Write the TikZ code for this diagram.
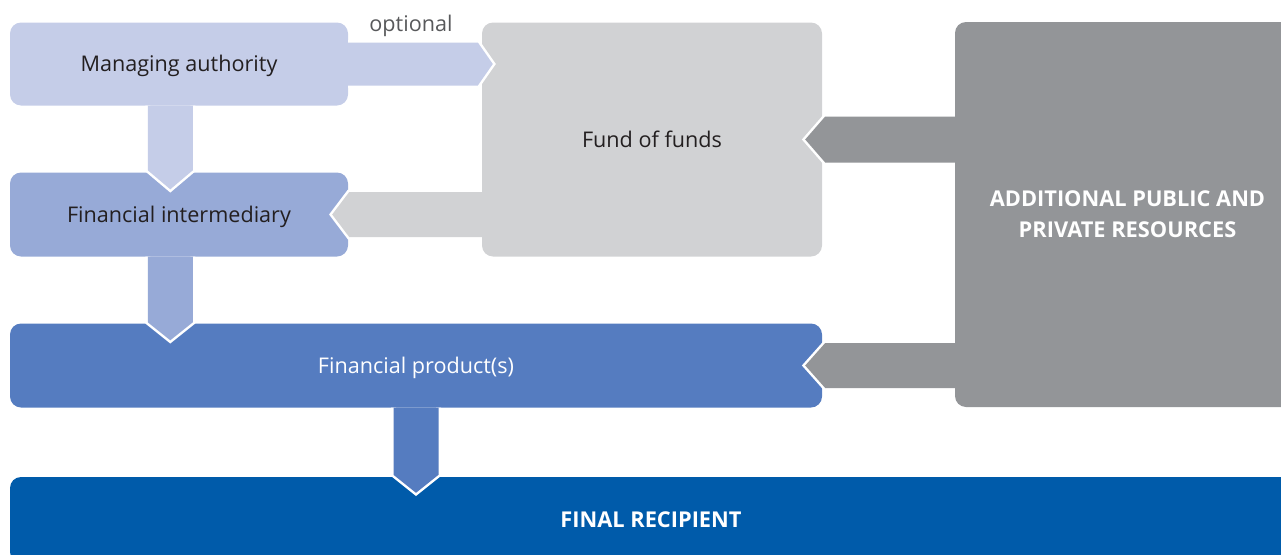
\documentclass[tikz,border=0pt]{standalone}
\usepackage{fontspec}
\setmainfont{Open Sans}
\usetikzlibrary{calc}
\definecolor{cMA}{HTML}{C5CDE8}
\definecolor{cFI}{HTML}{97AAD7}
\definecolor{cFP}{HTML}{557CC0}
\definecolor{cFR}{HTML}{005BAA}
\definecolor{cFoF}{HTML}{D1D2D4}
\definecolor{cAdd}{HTML}{939598}
\definecolor{cTxt}{HTML}{231F20}
\definecolor{cOpt}{HTML}{58595B}
\newcommand\flowband[5]{%
  \coordinate (fbBase) at ($(#3)!#5!(#2)$);
  \coordinate (fbA) at ($(#2)!#4!90:(#3)$);
  \coordinate (fbB) at ($(fbBase)!#4!90:(#3)$);
  \coordinate (fbC) at ($(fbBase)!#4!-90:(#3)$);
  \coordinate (fbD) at ($(#2)!#4!-90:(#3)$);
  \draw[white, line width=5pt, miter limit=10] (fbA) -- (fbB) -- (#3) -- (fbC) -- (fbD);
  \fill[#1] (fbA) -- (fbB) -- (#3) -- (fbC) -- (fbD) -- cycle;
}
\begin{document}
\begin{tikzpicture}[x=1pt,y=-1pt,
  box/.style={rectangle, rounded corners=11pt, inner sep=0pt,
    font=\fontsize{21.6}{26}\selectfont, text=cTxt, text height=15.5pt, text depth=0pt},
  boldtext/.style={font=\fontsize{21.8}{31}\selectfont\bfseries, text=white}]
\clip (0,0) rectangle (1281,554);
\node[box, fill=cMA, minimum width=338pt, minimum height=83pt] (ma) at (179,64) {Managing authority};
\node[box, fill=cFoF, minimum width=340pt, minimum height=234pt] (fof) at (652,139.5) {Fund of funds};
\node[box, fill=cFI, minimum width=338pt, minimum height=84pt] (fi) at (179,214.5) {Financial intermediary};
\node[box, fill=cFP, text=white, minimum width=812pt, minimum height=84pt] (fp) at (416,365.5) {Financial product(s)};
\node[box, boldtext, fill=cAdd, align=center, text height=, text depth=, minimum width=345pt, minimum height=385pt] (add) at (1127.5,214.5) {ADDITIONAL PUBLIC AND\\PRIVATE RESOURCES};
\node[box, boldtext, fill=cFR, minimum width=1282pt, minimum height=86pt, text height=15.5pt, text depth=0pt] (fr) at (651,520) {FINAL RECIPIENT};
\node[anchor=base, inner sep=0pt, text=cOpt, font=\fontsize{21.6}{26}\selectfont] (opt) at (411,31.5) {optional};
% connectors
\coordinate (s1) at (ma.east);
\coordinate (t1) at ($(ma.east -| fof.west)+(11,0)$);
\flowband{cMA}{s1}{t1}{21.5pt}{15pt}
\coordinate (s2) at ($(ma.south west)+(160.5,0)$);
\coordinate (t2) at ($(s2 |- fi.north)+(0,17)$);
\flowband{cMA}{s2}{t2}{22.5pt}{19pt}
\coordinate (s3) at (fof.west |- fi.center);
\coordinate (t3) at ($(fi.east)+(-16,0)$);
\flowband{cFoF}{s3}{t3}{22.5pt}{17pt}
\coordinate (s4) at ($(fi.south west)+(160.5,0)$);
\coordinate (t4) at ($(s4 |- fp.north)+(0,17)$);
\flowband{cFI}{s4}{t4}{22.5pt}{18pt}
\coordinate (s5) at (add.west |- fof.east);
\coordinate (t5) at ($(fof.east)+(-17,0)$);
\flowband{cAdd}{s5}{t5}{23pt}{20pt}
\coordinate (s6) at (add.west |- fp.east);
\coordinate (t6) at ($(fp.east)+(-17,0)$);
\flowband{cAdd}{s6}{t6}{22.5pt}{20pt}
\coordinate (s7) at (fp.south);
\coordinate (t7) at ($(fp.south |- fr.north)+(0,16)$);
\flowband{cFP}{s7}{t7}{22.5pt}{18pt}
\end{tikzpicture}
\end{document}
